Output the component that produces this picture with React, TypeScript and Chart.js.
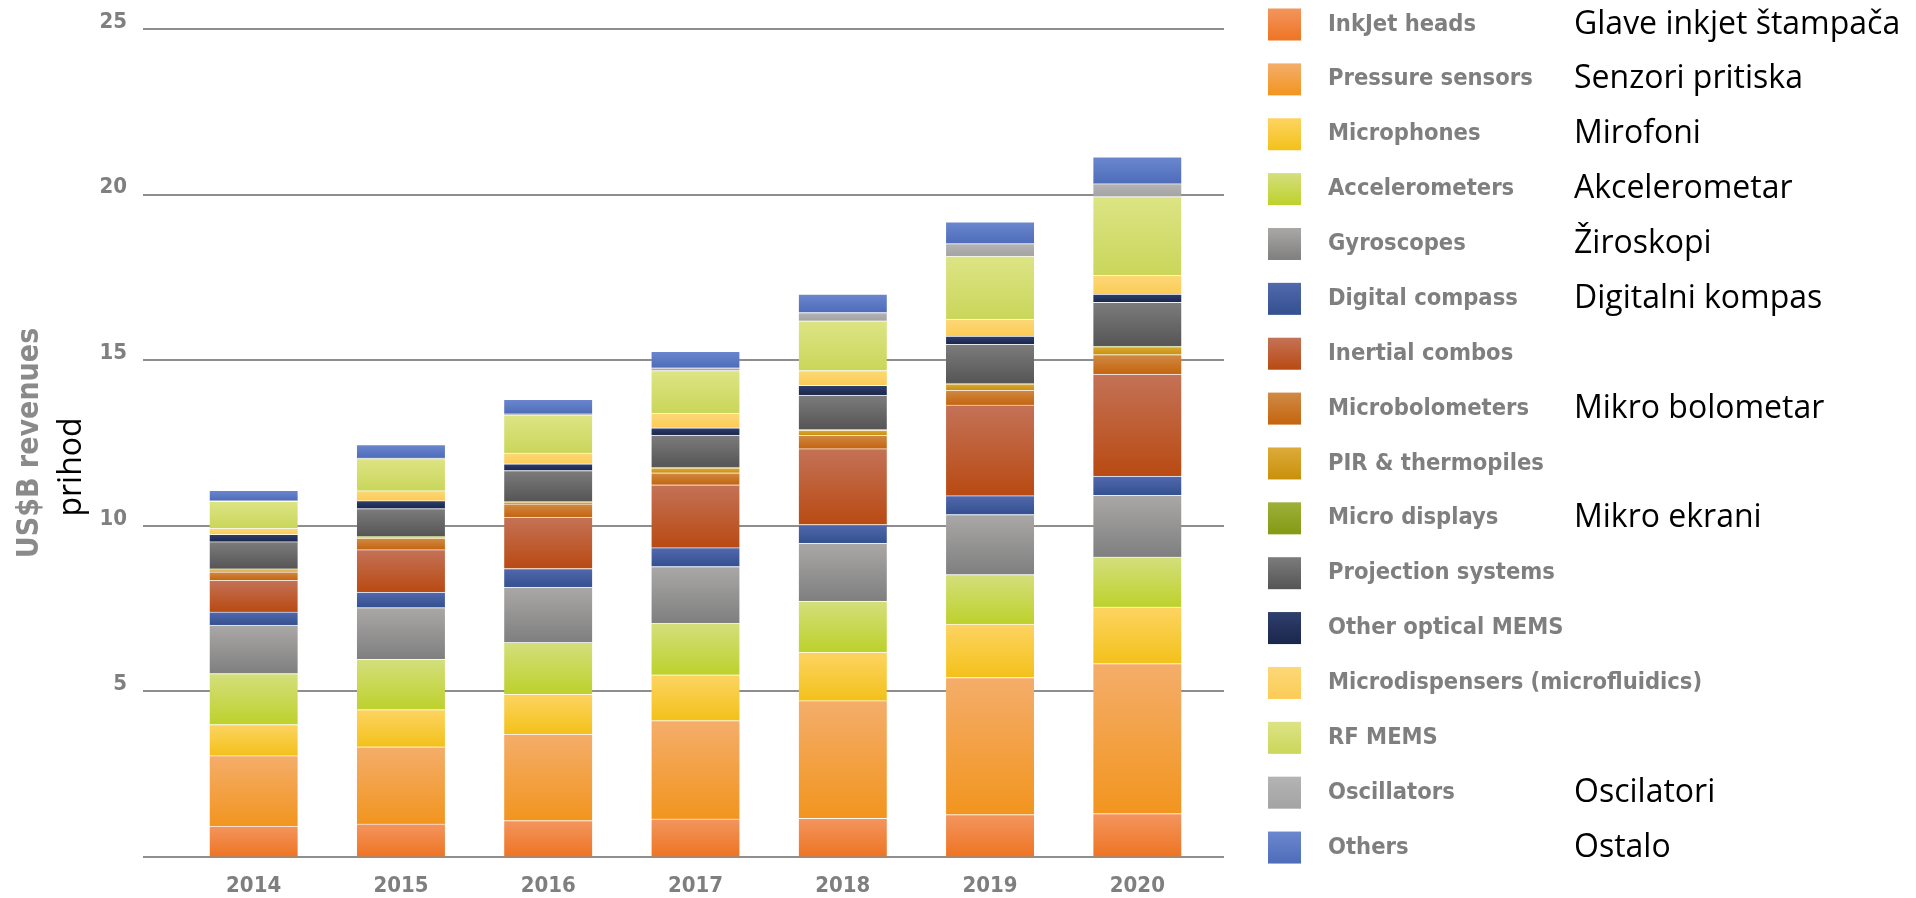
import React, { useEffect, useRef } from 'react';
import { Chart, registerables } from 'chart.js';

Chart.register(...registerables);

// ---------- data ----------
const years = ['2014', '2015', '2016', '2017', '2018', '2019', '2020'];

const seriesNames = [
  'InkJet heads',
  'Pressure sensors',
  'Microphones',
  'Accelerometers',
  'Gyroscopes',
  'Digital compass',
  'Inertial combos',
  'Microbolometers',
  'PIR & thermopiles',
  'Micro displays',
  'Projection systems',
  'Other optical MEMS',
  'Microdispensers (microfluidics)',
  'RF MEMS',
  'Oscillators',
  'Others',
];

const seriesNamesSr = [
  'Glave inkjet štampača',
  'Senzori pritiska',
  'Mirofoni',
  'Akcelerometar',
  'Žiroskopi',
  'Digitalni kompas',
  '',
  'Mikro bolometar',
  '',
  'Mikro ekrani',
  '',
  '',
  '',
  '',
  'Oscilatori',
  'Ostalo',
];

const inkjetHeads = [0.93, 1.0, 1.1, 1.15, 1.17, 1.28, 1.31];
const pressureSensors = [2.13, 2.33, 2.61, 2.97, 3.55, 4.14, 4.53];
const microphones = [0.94, 1.12, 1.21, 1.38, 1.47, 1.61, 1.71];
const accelerometers = [1.54, 1.52, 1.56, 1.56, 1.54, 1.5, 1.51];
const gyroscopes = [1.46, 1.56, 1.67, 1.71, 1.74, 1.81, 1.86];
const digitalCompass = [0.4, 0.47, 0.56, 0.57, 0.57, 0.57, 0.58];
const inertialCombos = [0.95, 1.28, 1.55, 1.9, 2.29, 2.74, 3.08];
const microbolometers = [0.26, 0.34, 0.4, 0.36, 0.41, 0.45, 0.59];
const pirThermopiles = [0.07, 0.04, 0.06, 0.15, 0.15, 0.19, 0.24];
const microDisplays = [0.02, 0.02, 0.02, 0.02, 0.02, 0.02, 0.02];
const projectionSystems = [0.82, 0.84, 0.93, 0.97, 1.04, 1.17, 1.32];
const otherOpticalMems = [0.22, 0.24, 0.2, 0.22, 0.29, 0.25, 0.25];
const microdispensers = [0.18, 0.3, 0.33, 0.44, 0.45, 0.51, 0.56];
const rfMems = [0.82, 0.97, 1.15, 1.29, 1.5, 1.9, 2.38];
const oscillators = [0.02, 0.02, 0.03, 0.08, 0.25, 0.38, 0.39];
const others = [0.31, 0.4, 0.44, 0.5, 0.56, 0.66, 0.81];

const seriesData = [
  inkjetHeads,
  pressureSensors,
  microphones,
  accelerometers,
  gyroscopes,
  digitalCompass,
  inertialCombos,
  microbolometers,
  pirThermopiles,
  microDisplays,
  projectionSystems,
  otherOpticalMems,
  microdispensers,
  rfMems,
  oscillators,
  others,
];

const yTickValues = [0, 5, 10, 15, 20, 25];
const yAxisTitle = 'US$B revenues';
const yAxisTitleSr = 'prihod';

// ---------- styles ----------
const topColors = [
  '#f3955e', '#f4ad6a', '#fdd462', '#d4df7c', '#aaa8a7', '#5269ad', '#c47257', '#d08a45',
  '#dcab3a', '#9db03a', '#7d7c7c', '#2f3f6d', '#fdd878', '#dde485', '#b5b4b4', '#6b87cf',
];
const bottomColors = [
  '#ee7422', '#f2951f', '#f3c11a', '#bdd12c', '#7f7f7f', '#33508f', '#b94a12', '#c4640e',
  '#c9900a', '#839a14', '#555555', '#1a274c', '#fbcb55', '#cad65a', '#a3a3a3', '#4e6cb9',
];

const GRAY = '#7f7f7f';
const BOLD_FAMILY = "'DejaVu Sans Condensed', 'DejaVu Sans', sans-serif";
const SR_FAMILY = "'Open Sans', 'Noto Sans', sans-serif";

function makeGradient(ctx: CanvasRenderingContext2D, yTop: number, yBottom: number, i: number) {
  const g = ctx.createLinearGradient(0, yTop, 0, yBottom);
  g.addColorStop(0, topColors[i]);
  g.addColorStop(1, bottomColors[i]);
  return g;
}

const gridPlugin = {
  id: 'extendedGrid',
  beforeDatasetsDraw(chart: any) {
    const { ctx, chartArea, scales } = chart;
    const ys = scales.y;
    ctx.save();
    ctx.strokeStyle = '#8e8e8e';
    ctx.lineWidth = 2;
    yTickValues.forEach((v) => {
      const y = Math.round(ys.getPixelForValue(v));
      ctx.beginPath();
      ctx.moveTo(chartArea.left - 37, y);
      ctx.lineTo(chartArea.right + 13, y);
      ctx.stroke();
    });
    ctx.restore();
  },
};

const legendPlugin = {
  id: 'customLegend',
  afterDraw(chart: any) {
    const { ctx, scales } = chart;
    ctx.save();
    const rowStart = 24.5;
    const rowStep = 54.87;
    seriesNames.forEach((name, i) => {
      const cy = rowStart + rowStep * i;
      ctx.fillStyle = makeGradient(ctx, cy - 16, cy + 16, i);
      ctx.fillRect(1268, cy - 16, 33, 32);
      ctx.fillStyle = GRAY;
      ctx.font = `bold 23.5px ${BOLD_FAMILY}`;
      ctx.textAlign = 'left';
      ctx.textBaseline = 'middle';
      ctx.fillText(name, 1328, cy);
      const sr = seriesNamesSr[i];
      if (sr) {
        ctx.fillStyle = '#000000';
        ctx.font = `32px ${SR_FAMILY}`;
        ctx.fillText(sr, 1574, cy);
      }
    });
    // secondary y-axis title
    const ys = scales.y;
    const midY = (ys.top + ys.bottom) / 2 + 24;
    ctx.translate(72, midY);
    ctx.rotate(-Math.PI / 2);
    ctx.fillStyle = '#000000';
    ctx.font = `32px ${SR_FAMILY}`;
    ctx.textAlign = 'center';
    ctx.textBaseline = 'middle';
    ctx.fillText(yAxisTitleSr, 0, 0);
    ctx.restore();
  },
};

export default function App() {
  const canvasRef = useRef<HTMLCanvasElement | null>(null);

  useEffect(() => {
    const canvas = canvasRef.current;
    if (!canvas) return;

    const datasets = seriesNames.map((name, di) => ({
      label: name,
      data: seriesData[di],
      barThickness: 88,
      borderWidth: { top: 1, right: 0, bottom: 0, left: 0 },
      borderSkipped: 'start',
      borderColor: 'rgba(255,255,255,0.45)',
      backgroundColor: (c: any) => {
        const chart = c.chart;
        const ys = chart.scales && chart.scales.y;
        if (!chart.chartArea || !ys || c.type !== 'data') return bottomColors[di];
        const idx = c.dataIndex;
        let below = 0;
        for (let k = 0; k < di; k++) below += seriesData[k][idx];
        const y0 = ys.getPixelForValue(below);
        const y1 = ys.getPixelForValue(below + seriesData[di][idx]);
        if (!isFinite(y0) || !isFinite(y1) || Math.abs(y0 - y1) < 0.5) return bottomColors[di];
        return makeGradient(chart.ctx, y1, y0, di);
      },
    }));

    const chart = new Chart(canvas, {
      type: 'bar',
      data: { labels: years, datasets },
      options: {
        animation: false,
        responsive: false,
        layout: { padding: { left: 0, top: 29, right: 705, bottom: 0 } },
        plugins: {
          legend: { display: false },
          tooltip: { enabled: false },
        },
        scales: {
          x: {
            stacked: true,
            offset: true,
            grid: { display: false, drawTicks: false },
            border: { display: false },
            ticks: {
              color: GRAY,
              padding: 16,
              font: { family: BOLD_FAMILY, size: 22, weight: 'bold' },
            },
            afterFit: (scale: any) => {
              scale.height = 41;
            },
          },
          y: {
            stacked: true,
            min: 0,
            max: 25,
            grid: {
              display: true,
              drawOnChartArea: false,
              drawTicks: true,
              tickLength: 50,
              color: 'rgba(0,0,0,0)',
            },
            border: { display: false },
            ticks: {
              stepSize: 5,
              color: GRAY,
              padding: 3,
              labelOffset: -7,
              font: { family: BOLD_FAMILY, size: 22, weight: 'bold' },
              callback: (v: any) => (v === 0 ? '' : String(v)),
            },
            title: {
              display: true,
              text: yAxisTitle,
              color: '#8a8a8a',
              padding: { top: 12, bottom: 0 },
              font: { family: BOLD_FAMILY, size: 30, weight: 'bold' },
            },
            afterFit: (scale: any) => {
              scale.width = 180;
            },
          },
        },
      },
      plugins: [gridPlugin, legendPlugin],
    });

    return () => chart.destroy();
  }, []);

  return (
    <div style={{ position: 'fixed', left: 0, top: 0, width: 1916, height: 898, background: '#ffffff' }}>
      <canvas ref={canvasRef} width={1916} height={898} style={{ display: 'block' }} />
    </div>
  );
}
